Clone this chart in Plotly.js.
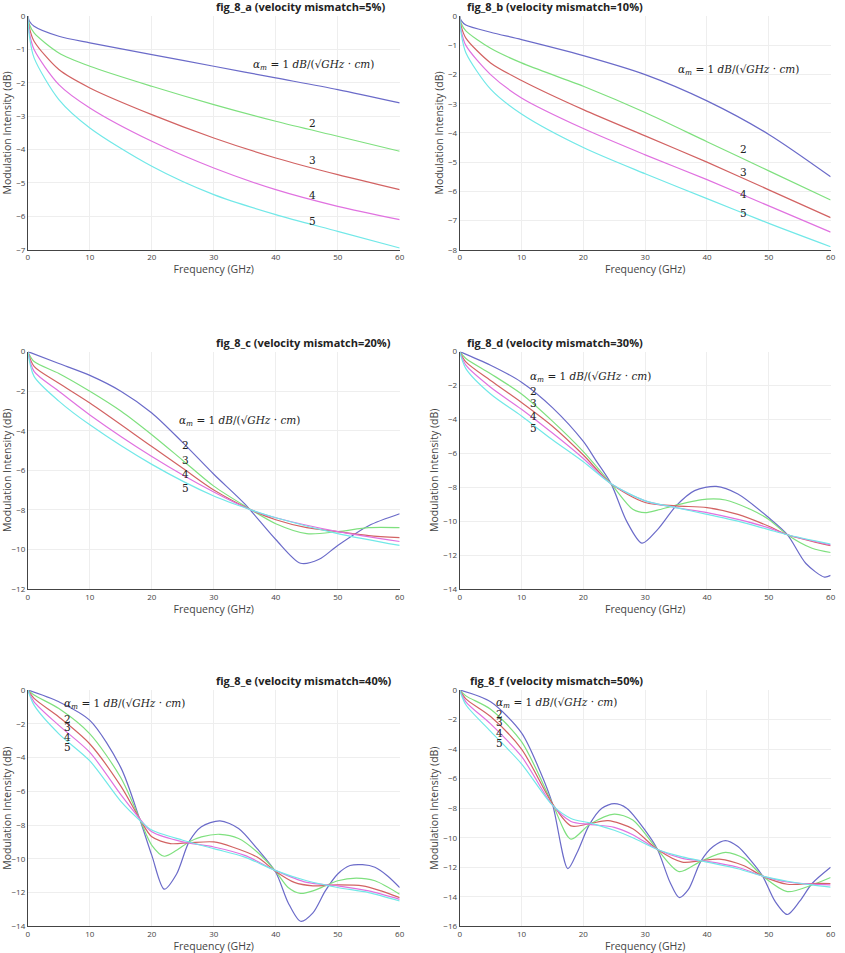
<!DOCTYPE html>
<html>
<head>
<meta charset="utf-8">
<script src="https://cdn.plot.ly/plotly-3.0.1.min.js"></script>
<style>body{margin:0;background:#fff}#chart{width:845px;height:953px}</style>
</head>
<body>
<div id="chart"></div>
<script>
// values: [x, y] pairs per curve, alpha_m = 1..5
const colors = ['#6b6bc9', '#7fe07f', '#d26363', '#e072e0', '#72e8e8']

const figA = [
  [[0,0],[0.25,-0.15],[1,-0.3],[5,-0.6],[10,-0.8],[20,-1.15],[30,-1.5],[40,-1.85],[50,-2.2],[60,-2.6]],
  [[0,0],[0.25,-0.25],[1,-0.5],[5,-1.1],[10,-1.5],[20,-2.1],[30,-2.65],[40,-3.15],[50,-3.6],[60,-4.05]],
  [[0,0],[0.25,-0.35],[1,-0.75],[5,-1.6],[10,-2.15],[20,-2.95],[30,-3.65],[40,-4.25],[50,-4.75],[60,-5.2]],
  [[0,0],[0.25,-0.5],[1,-1.0],[5,-2.05],[10,-2.75],[20,-3.75],[30,-4.55],[40,-5.2],[50,-5.7],[60,-6.1]],
  [[0,0],[0.25,-0.6],[1,-1.25],[5,-2.5],[10,-3.35],[20,-4.5],[30,-5.35],[40,-5.95],[50,-6.45],[60,-6.95]],
]
const figB = [
  [[0,0],[0.25,-0.15],[1,-0.3],[5,-0.55],[10,-0.8],[20,-1.35],[30,-2.0],[40,-2.9],[50,-4.05],[60,-5.5]],
  [[0,0],[0.25,-0.25],[1,-0.5],[5,-1.1],[10,-1.6],[20,-2.4],[30,-3.3],[40,-4.3],[50,-5.3],[60,-6.3]],
  [[0,0],[0.25,-0.35],[1,-0.75],[5,-1.6],[10,-2.2],[20,-3.2],[30,-4.1],[40,-5.0],[50,-5.95],[60,-6.9]],
  [[0,0],[0.25,-0.5],[1,-1.0],[5,-2.0],[10,-2.8],[20,-3.85],[30,-4.75],[40,-5.6],[50,-6.5],[60,-7.4]],
  [[0,0],[0.25,-0.6],[1,-1.25],[5,-2.5],[10,-3.35],[20,-4.5],[30,-5.4],[40,-6.25],[50,-7.1],[60,-7.9]],
]
const figC = [
  [[0,0],[5,-0.6],[10,-1.2],[15,-2],[20,-3.1],[25,-4.6],[30,-6.2],[35,-7.7],[40,-9.5],[44,-10.7],[47,-10.5],[50,-9.8],[55,-8.8],[60,-8.2]],
  [[0,0],[1,-0.5],[5,-1.1],[10,-2],[15,-3],[20,-4.2],[25,-5.5],[30,-6.8],[35,-7.8],[40,-8.7],[45,-9.2],[50,-9.1],[55,-8.9],[60,-8.9]],
  [[0,0],[1,-0.75],[5,-1.6],[10,-2.6],[20,-4.8],[25,-5.9],[30,-7.0],[36,-8.0],[40,-8.5],[45,-8.9],[50,-9.1],[55,-9.3],[60,-9.4]],
  [[0,0],[1,-1.0],[5,-2.0],[10,-3.2],[20,-5.3],[30,-7.1],[36,-8],[40,-8.4],[50,-9.1],[60,-9.6]],
  [[0,0],[1,-1.25],[5,-2.5],[10,-3.7],[20,-5.7],[30,-7.3],[36,-8],[40,-8.4],[50,-9.2],[60,-9.8]],
]
const figD = [
  [[0,0],[5,-0.8],[10,-1.8],[15,-3.3],[20,-5.3],[22,-6.4],[24.5,-7.8],[27,-10],[29.5,-11.3],[32,-10.5],[35,-9.1],[38,-8.2],[41.5,-7.95],[45,-8.4],[50,-9.8],[53,-10.8],[56,-12.5],[59,-13.3],[60,-13.2]],
  [[0,0],[1,-0.4],[5,-1.3],[10,-2.5],[15,-4.1],[20,-5.9],[24.5,-7.8],[28,-9.3],[30,-9.5],[32,-9.35],[35,-9.05],[40,-8.7],[43,-8.75],[47,-9.3],[50,-9.9],[53,-10.8],[57,-11.6],[60,-11.85]],
  [[0,0],[1,-0.6],[5,-1.7],[10,-3],[15,-4.4],[20,-6.1],[24.5,-7.8],[30,-8.9],[35,-9.1],[40,-9.2],[45,-9.6],[50,-10.3],[53,-10.8],[60,-11.45]],
  [[0,0],[1,-0.8],[5,-2.1],[10,-3.4],[15,-4.8],[20,-6.3],[24.5,-7.8],[30,-8.8],[35,-9.2],[40,-9.5],[45,-9.9],[50,-10.4],[53,-10.8],[60,-11.4]],
  [[0,0],[1,-1.0],[5,-2.5],[10,-3.8],[15,-5.2],[20,-6.5],[24.5,-7.8],[30,-8.8],[35,-9.2],[40,-9.6],[45,-10],[50,-10.5],[53,-10.8],[60,-11.35]],
]
const figE = [
  [[0,0],[5,-0.7],[10,-1.8],[15,-4.6],[18,-7.6],[20,-9.8],[22,-11.8],[24,-10.9],[26,-9.0],[28,-8.1],[31,-7.75],[34,-8.2],[37,-9.4],[40,-10.8],[42,-12.6],[44,-13.7],[46,-13.2],[48,-11.9],[50,-10.9],[52,-10.4],[54,-10.35],[56,-10.5],[58,-11],[60,-11.7]],
  [[0,0],[1,-0.3],[5,-1.1],[10,-2.6],[15,-5.2],[18,-7.6],[20,-9.2],[22,-9.85],[24,-9.5],[26,-9.0],[28,-8.7],[31,-8.55],[34,-8.8],[37,-9.6],[40,-10.75],[42,-11.7],[44,-12.05],[46,-11.9],[48,-11.6],[50,-11.3],[53,-11.15],[56,-11.3],[60,-12.1]],
  [[0,0],[1,-0.5],[5,-1.6],[10,-3.2],[15,-5.7],[18,-7.6],[20,-8.7],[23,-9.1],[26,-9.05],[30,-9.0],[33,-9.3],[37,-9.9],[40,-10.75],[43,-11.4],[46,-11.6],[50,-11.55],[54,-11.6],[57,-11.9],[60,-12.3]],
  [[0,0],[1,-0.7],[5,-2.1],[10,-3.7],[15,-6.2],[18,-7.6],[20,-8.4],[25,-9.0],[30,-9.3],[35,-9.8],[40,-10.7],[45,-11.4],[50,-11.6],[55,-11.9],[60,-12.4]],
  [[0,0],[1,-0.9],[5,-2.6],[10,-4.2],[15,-6.6],[18,-7.7],[20,-8.3],[25,-8.9],[30,-9.4],[35,-9.9],[40,-10.7],[45,-11.3],[50,-11.7],[55,-12.0],[60,-12.5]],
]
const figF = [
  [[0,0],[5,-0.8],[10,-2.9],[13,-5.5],[15,-7.7],[17.5,-12.1],[19,-11],[21,-9.1],[23,-8],[25,-7.7],[27,-8],[30,-9.5],[32,-10.8],[34,-13],[35.5,-14.05],[37,-13.5],[39,-11.6],[41,-10.6],[43,-10.2],[45,-10.6],[47,-11.5],[49,-12.6],[51,-14.3],[53,-15.2],[55,-14.3],[57,-13.1],[60,-12]],
  [[0,0],[1,-0.4],[5,-1.3],[10,-3.5],[15,-7.7],[18,-10.1],[21,-9.1],[25,-8.4],[28,-8.8],[32,-10.8],[35.5,-12.3],[39,-11.6],[43,-11],[46,-11.4],[49,-12.6],[53,-13.65],[57,-13.2],[60,-12.7]],
  [[0,0],[1,-0.6],[5,-1.8],[10,-4],[15,-7.7],[18,-9.2],[21,-9.05],[24,-8.85],[28,-9.4],[32,-10.8],[36,-11.65],[39,-11.55],[42,-11.45],[46,-11.9],[49,-12.6],[53,-13.15],[57,-13.1],[60,-13.1]],
  [[0,0],[1,-0.8],[5,-2.3],[10,-4.5],[15,-7.8],[18,-8.9],[21,-9.1],[25,-9.3],[28,-9.8],[32,-10.8],[36,-11.4],[40,-11.6],[45,-12],[49,-12.6],[53,-13],[57,-13.15],[60,-13.2]],
  [[0,0],[1,-1.0],[5,-2.8],[10,-5],[15,-7.8],[18,-8.7],[21,-9.0],[25,-9.5],[28,-10],[32,-10.8],[36,-11.3],[40,-11.65],[45,-12.1],[49,-12.6],[53,-12.95],[57,-13.2],[60,-13.35]],
]

const titles = ['fig_8_a (velocity mismatch=5%)', 'fig_8_b (velocity mismatch=10%)', 'fig_8_c (velocity mismatch=20%)',
  'fig_8_d (velocity mismatch=30%)', 'fig_8_e (velocity mismatch=40%)', 'fig_8_f (velocity mismatch=50%)']
const yRanges = [[-7, 0], [-8, 0], [-12, 0], [-14, 0], [-14, 0], [-16, 0]]
const yTicks = [1, 1, 2, 2, 2, 2]
// label positions: [main x, main y, number x, number ys...]
const labels = [
  [36, -1.45, 45, [-3.2, -4.3, -5.35, -6.15]],
  [35, -1.85, 45, [-4.55, -5.35, -6.1, -6.75]],
  [24, -3.5, 24.5, [-4.7, -5.5, -6.2, -6.9]],
  [11, -1.5, 11, [-2.3, -3.0, -3.8, -4.5]],
  [5.5, -0.85, 5.5, [-1.7, -2.2, -2.8, -3.4]],
  [5.5, -0.9, 5.5, [-1.6, -2.2, -2.9, -3.6]],
]
const figs = [figA, figB, figC, figD, figE, figF]

const xDom = [[0.033, 0.473], [0.544, 0.983]]
const yDom = [[0.738, 0.983], [0.382, 0.631], [0.028, 0.276]]

const data = []
const layout = {
  width: 845, height: 953, showlegend: false, paper_bgcolor: '#fff', plot_bgcolor: '#fff',
  margin: { l: 0, r: 0, t: 0, b: 0 },
  font: { family: 'Open Sans, sans-serif', color: '#444' },
  annotations: [],
}
const mathFont = { family: 'DejaVu Serif, serif', size: 10.5, color: '#222' }

figs.forEach((fig, i) => {
  const k = i + 1
  const ax = k === 1 ? '' : k
  fig.forEach((curve, j) => data.push({
    x: curve.map(p => p[0]), y: curve.map(p => p[1]), type: 'scatter', mode: 'lines',
    line: { color: colors[j], width: 1.2, shape: 'spline', smoothing: 0.8 },
    xaxis: 'x' + ax, yaxis: 'y' + ax,
  }))
  const common = { showgrid: true, gridcolor: '#eee', zeroline: false, showline: true, linecolor: '#444', linewidth: 1,
    ticks: '', tickfont: { size: 8, color: '#444' } }
  layout['xaxis' + ax] = { ...common, domain: xDom[i % 2], range: [0, 60], dtick: 10, anchor: 'y' + ax,
    title: { text: 'Frequency (GHz)', font: { size: 10.5 }, standoff: 2 } }
  layout['yaxis' + ax] = { ...common, domain: yDom[Math.floor(i / 2)], range: yRanges[i], dtick: yTicks[i], anchor: 'x' + ax,
    title: { text: 'Modulation Intensity (dB)', font: { size: 10.5 }, standoff: 2 } }
  const dom = xDom[i % 2]
  layout.annotations.push({ text: '<b>' + titles[i] + '</b>', xref: 'paper', yref: 'paper',
    x: (dom[0] + dom[1]) / 2, y: yDom[Math.floor(i / 2)][1], yanchor: 'bottom', showarrow: false,
    font: { size: 11, color: '#222', family: 'Open Sans, sans-serif' } })
  const [mx, my, nx, nys] = labels[i]
  layout.annotations.push({ text: '<i>α<sub>m</sub></i> = 1 <i>dB</i>/(√<i>GHz</i> · <i>cm</i>)', xref: 'x' + ax, yref: 'y' + ax,
    x: mx, y: my, xanchor: 'left', showarrow: false, font: mathFont })
  nys.forEach((ny, n) => layout.annotations.push({ text: String(n + 2), xref: 'x' + ax, yref: 'y' + ax,
    x: nx, y: ny, xanchor: 'left', showarrow: false, font: mathFont }))
})

Plotly.newPlot('chart', data, layout, { displayModeBar: false })
</script>
</body>
</html>
